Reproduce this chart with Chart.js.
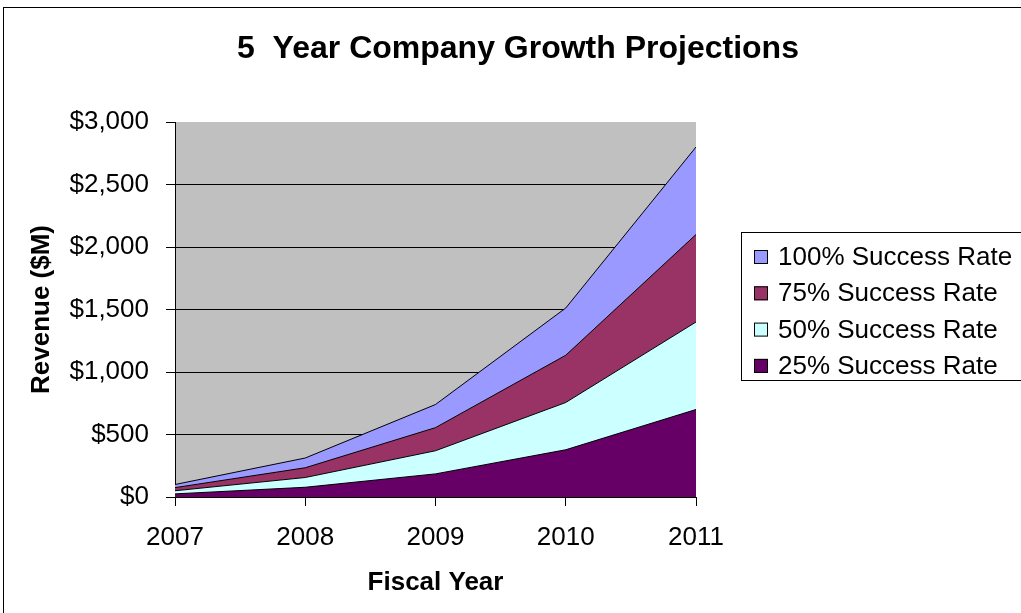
<!DOCTYPE html>
<html>
<head>
<meta charset="utf-8">
<script src="https://cdn.jsdelivr.net/npm/chart.js@4.4.1/dist/chart.umd.min.js"></script>
<style>
    html, body { margin: 0; padding: 0; background: #fff; overflow: hidden; }
    canvas { display: block; }
</style>
</head>
<body>
<canvas id="chartGrowth" width="1021" height="613"></canvas>
<script>
const years = ["2007", "2008", "2009", "2010", "2011"];
const rate25 = [25, 78, 185, 378, 700];
const rate50 = [25, 78, 185, 378, 700];
const rate75 = [25, 78, 185, 378, 700];
const rate100 = [25, 78, 185, 378, 700];
const yTicks = [0, 500, 1000, 1500, 2000, 2500, 3000];

const FONT = "'Liberation Sans', Arial, sans-serif";

const series = [
    { label: "25% Success Rate", data: rate25, color: "#660066" },
    { label: "50% Success Rate", data: rate50, color: "#CCFFFF" },
    { label: "75% Success Rate", data: rate75, color: "#993366" },
    { label: "100% Success Rate", data: rate100, color: "#9999FF" },
];

// border, plot background, title and the boxed legend
const decorPlugin = {
    id: "decor",
    beforeDraw(chart) {
        const { ctx, chartArea } = chart;
        ctx.save();
        ctx.fillStyle = "#FFFFFF";
        ctx.fillRect(0, 0, chart.width, chart.height);
        ctx.strokeStyle = "#000000";
        ctx.lineWidth = 1;
        ctx.strokeRect(3.5, 7.5, chart.width + 20, chart.height + 20);
        ctx.fillStyle = "#C0C0C0";
        ctx.fillRect(chartArea.left, chartArea.top,
            chartArea.right - chartArea.left, chartArea.bottom - chartArea.top);
        ctx.restore();
    },
    afterDraw(chart) {
        const { ctx } = chart;
        ctx.save();
        ctx.fillStyle = "#000000";
        ctx.font = "bold 32px " + FONT;
        ctx.textAlign = "center";
        ctx.textBaseline = "middle";
        ctx.fillText("5  Year Company Growth Projections", 518, 49);

        // legend
        ctx.strokeStyle = "#000000";
        ctx.lineWidth = 1;
        ctx.strokeRect(741.5, 232.5, 320, 148);
        ctx.font = "26px " + FONT;
        ctx.textAlign = "left";
        const items = series.slice().reverse();
        items.forEach((s, i) => {
            const cy = 257 + i * 36.3;
            ctx.fillStyle = s.color;
            ctx.fillRect(754, cy - 7, 14, 14);
            ctx.strokeRect(754.5, cy - 6.5, 13, 13);
            ctx.fillStyle = "#000000";
            ctx.fillText(s.label, 778, cy + 1);
        });
        ctx.restore();
    },
};

const renderGrowthChart = () => {
    const canvas = document.getElementById("chartGrowth");
    const ctx = canvas.getContext("2d");

    new Chart(ctx, {
        type: "line",
        data: {
            labels: years,
            datasets: series.map((s, i) => ({
                label: s.label,
                data: s.data,
                backgroundColor: s.color,
                borderColor: "#000000",
                borderWidth: 1,
                pointRadius: 0,
                tension: 0,
                fill: i === 0 ? "origin" : "-1",
            })),
        },
        options: {
            responsive: false,
            animation: false,
            layout: {
                padding: { left: 22, right: 325, top: 122, bottom: 11 },
            },
            plugins: {
                legend: { display: false },
                title: { display: false },
                tooltip: { enabled: false },
                filler: { propagate: false },
            },
            scales: {
                x: {
                    offset: false,
                    grid: {
                        drawOnChartArea: false,
                        drawTicks: true,
                        tickLength: 9,
                        tickColor: "#000000",
                        color: "#000000",
                    },
                    border: { color: "#000000", width: 1 },
                    ticks: {
                        color: "#000000",
                        padding: 16,
                        maxRotation: 0,
                        font: { family: FONT, size: 26 },
                    },
                    title: {
                        display: true,
                        text: "Fiscal Year",
                        color: "#000000",
                        font: { family: FONT, size: 26, weight: "bold" },
                    },
                    afterFit: (scale) => { scale.height = 105; },
                },
                y: {
                    stacked: true,
                    min: 0,
                    max: 3000,
                    afterBuildTicks: (scale) => {
                        scale.ticks = yTicks.map((v) => ({ value: v }));
                    },
                    grid: {
                        color: (c) => (c.tick && c.tick.value === 3000 ? "rgba(0,0,0,0)" : "#000000"),
                        tickColor: "#000000",
                        tickLength: 9,
                    },
                    border: { color: "#000000", width: 1 },
                    ticks: {
                        color: "#000000",
                        padding: 17,
                        font: { family: FONT, size: 26 },
                        callback: (v) => "$" + Number(v).toLocaleString("en-US"),
                    },
                    title: {
                        display: true,
                        text: "Revenue ($M)",
                        color: "#000000",
                        font: { family: FONT, size: 26, weight: "bold" },
                    },
                    afterFit: (scale) => { scale.width = 153; },
                },
            },
        },
        plugins: [decorPlugin],
    });
};

document.addEventListener("DOMContentLoaded", () => {
    renderGrowthChart();
});
</script>
</body>
</html>
